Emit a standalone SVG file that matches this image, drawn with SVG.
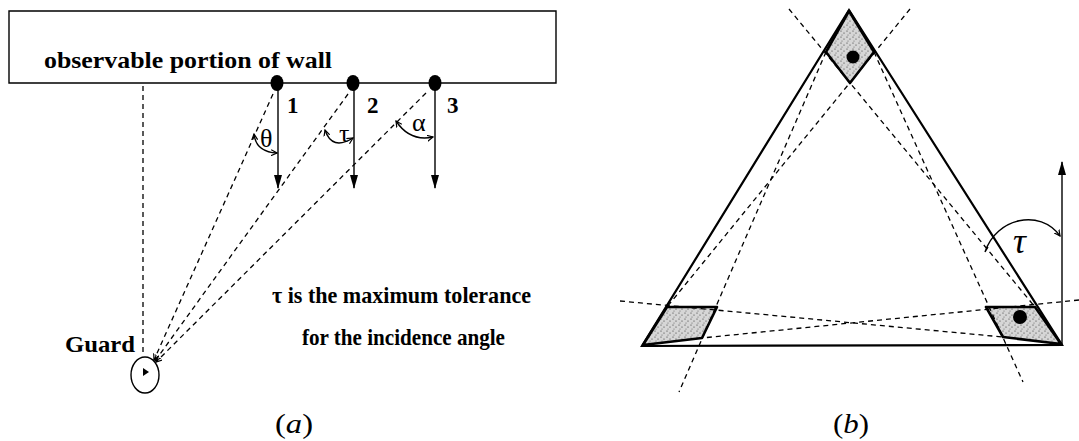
<svg xmlns="http://www.w3.org/2000/svg" width="1079" height="441" viewBox="0 0 1079 441">
<defs>
<style>
.ln{stroke:#000;stroke-width:1.4;fill:none}
.dash{stroke:#000;stroke-width:1.3;fill:none;stroke-dasharray:5 4}
.thick{stroke:#000;stroke-width:2.2;fill:none}
.shade{fill:url(#stip);stroke:#000;stroke-width:2.6;stroke-linejoin:round}
.lbl{font-family:"Liberation Serif","Times New Roman",serif;font-weight:bold;fill:#000}
.math{font-family:"Liberation Serif","Times New Roman",serif;fill:#000}
</style>
<pattern id="stip" width="6" height="6" patternUnits="userSpaceOnUse">
<rect width="6" height="6" fill="#d6d6d6"/>
<circle cx="1" cy="1" r="0.6" fill="#333"/>
<circle cx="4" cy="3" r="0.6" fill="#333"/>
<circle cx="2" cy="5" r="0.5" fill="#555"/>
</pattern>
<marker id="ah" markerWidth="14" markerHeight="8" refX="13" refY="4" orient="auto" markerUnits="userSpaceOnUse" viewBox="0 0 14 8">
<path d="M0,0 L14,4 L0,8 Z" fill="#000"/>
</marker>
<marker id="sm" markerWidth="7" markerHeight="7" refX="6" refY="3.5" orient="auto-start-reverse" markerUnits="userSpaceOnUse" viewBox="0 0 7 7">
<path d="M0,0.5 L6,3.5 L0,6.5" fill="none" stroke="#000" stroke-width="1.2"/>
</marker>
</defs>

<!-- (a) -->
<g id="wall">
<path class="ln" d="M556,11 H9 V83 H556 Z"/>
<text class="lbl" x="44" y="68" font-size="24" textLength="288" lengthAdjust="spacingAndGlyphs">observable portion of wall</text>
</g>
<g id="point1">
<ellipse cx="277" cy="83" rx="6.5" ry="8"/>
<text class="lbl" x="287" y="113" font-size="23">1</text>
</g>
<g id="point2">
<ellipse cx="353" cy="83" rx="6.5" ry="8"/>
<text class="lbl" x="367" y="113" font-size="23">2</text>
</g>
<g id="point3">
<ellipse cx="435" cy="83" rx="6.5" ry="8"/>
<text class="lbl" x="447" y="113" font-size="23">3</text>
</g>
<g id="guard">
<ellipse class="ln" cx="145" cy="375" rx="14" ry="18"/>
<path d="M143,368 L149,372 L143,376 Z" fill="#000"/>
<text class="lbl" x="65" y="352" font-size="24" textLength="70" lengthAdjust="spacingAndGlyphs">Guard</text>
</g>
<g id="angles-a">
<path class="ln" d="M254,134 Q256,152 277,153" marker-start="url(#sm)" marker-end="url(#sm)"/>
<text class="math" x="260" y="147" font-size="26">θ</text>
<path class="ln" d="M325,130 Q332,151 353,138" marker-start="url(#sm)" marker-end="url(#sm)"/>
<text class="math" x="339" y="142" font-size="26">τ</text>
<path class="ln" d="M396,121 Q410,142 433,137" marker-start="url(#sm)" marker-end="url(#sm)"/>
<text class="math" x="412" y="131" font-size="26">α</text>
</g>
<g id="caption-a">
<text class="lbl" x="272" y="303" font-size="23" textLength="259" lengthAdjust="spacingAndGlyphs">τ is the maximum tolerance</text>
<text class="lbl" x="302" y="345" font-size="23" textLength="203" lengthAdjust="spacingAndGlyphs">for the incidence angle</text>
<text class="math" x="275" y="433" font-size="28" textLength="38" lengthAdjust="spacingAndGlyphs">(<tspan font-style="italic">a</tspan>)</text>
</g>
<g id="connectors-a">
<line class="ln" x1="278" y1="90" x2="278" y2="188" marker-end="url(#ah)"/>
<line class="ln" x1="354" y1="90" x2="354" y2="188" marker-end="url(#ah)"/>
<line class="ln" x1="435" y1="90" x2="435" y2="188" marker-end="url(#ah)"/>
<line class="dash" x1="143" y1="86" x2="143" y2="356"/>
<line class="dash" x1="273" y1="94" x2="154" y2="360" marker-end="url(#sm)"/>
<line class="dash" x1="348" y1="94" x2="155" y2="361" marker-end="url(#sm)"/>
<line class="dash" x1="426" y1="93" x2="156" y2="362" marker-end="url(#sm)"/>
</g>

<!-- (b) -->
<g id="triangle">
<path class="thick" d="M849,10 L642,346 L1062,345 Z" stroke-linejoin="miter"/>
</g>
<g id="region-top">
<path class="shade" d="M849,11 L826,52 L850,83 L874,52 Z"/>
<circle cx="853" cy="57" r="6.5"/>
</g>
<g id="region-left">
<path class="shade" d="M643,345 L667,307 L717,307 L702,338 Z"/>
</g>
<g id="region-right">
<path class="shade" d="M986,307 L1035,307 L1061,344 L1003,337 Z"/>
<circle cx="1020" cy="317" r="7"/>
</g>
<g id="connectors-b">
<line class="dash" x1="789" y1="9" x2="1035" y2="307"/>
<line class="dash" x1="910" y1="9" x2="667" y2="307"/>
<line class="dash" x1="874" y1="52" x2="1023" y2="382"/>
<line class="dash" x1="826" y1="52" x2="679" y2="392"/>
<line class="dash" x1="620" y1="301" x2="1003" y2="337"/>
<line class="dash" x1="1079" y1="300" x2="702" y2="338"/>
<line class="ln" x1="1062" y1="345" x2="1062" y2="162" marker-end="url(#ah)"/>
<path class="ln" d="M988,247 L985,252 M985,252 C996,218 1040,208 1060,236" marker-end="url(#sm)"/>
</g>
<g id="labels-b">
<text class="math" x="1013" y="253" font-size="36" font-style="italic">τ</text>
<text class="math" x="833" y="433" font-size="28" textLength="36" lengthAdjust="spacingAndGlyphs">(<tspan font-style="italic">b</tspan>)</text>
</g>
</svg>
